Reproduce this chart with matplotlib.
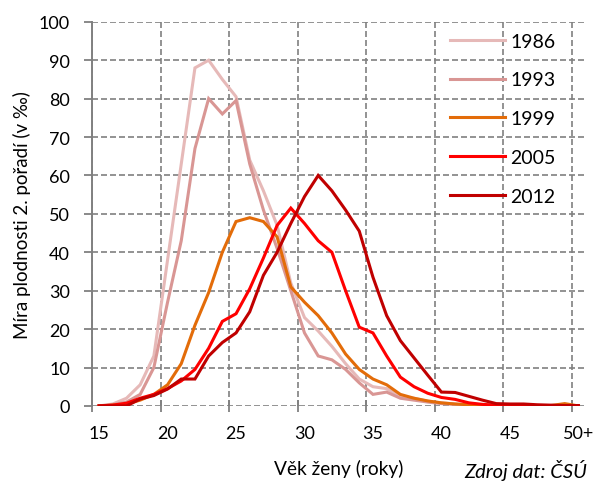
import matplotlib.pyplot as plt
from matplotlib.ticker import FixedLocator

plt.rcParams['font.family'] = ['Lato', 'DejaVu Sans']

# age categories 15 .. 50+
ages = list(range(15, 51))
age_labels = ["15", "20", "25", "30", "35", "40", "45", "50+"]

rate_1986 = [0, 0.5, 2, 5.5, 13, 38, 63, 88, 90, 85, 80.5, 64, 56, 47, 32, 23,
             19.5, 15.5, 11, 7, 5, 4.5, 2.5, 2, 1.2, 0.8, 0.5, 0.3, 0.2, 0.1,
             0, 0, 0, 0, 0, 0]
rate_1993 = [0, 0.3, 1, 3, 10, 27, 43, 67, 80, 76, 79.5, 63, 51, 41, 30, 19,
             13, 12, 9.5, 6, 3, 3.6, 2, 1.5, 1, 0.6, 0.4, 0.2, 0.1, 0,
             0, 0, 0, 0, 0, 0]
rate_1999 = [0, 0.2, 0.5, 1.5, 3, 5.5, 11, 21, 29.5, 40, 48, 49, 48, 44, 31, 27,
             23.5, 19, 13.5, 9.5, 7, 5.5, 3, 2, 1.3, 0.8, 0.5, 0.3, 0.2, 0.1,
             0.1, 0.1, 0.1, 0.1, 0.6, 0]
rate_2005 = [0, 0.2, 0.7, 2, 3, 4.5, 6.5, 9.5, 15, 22, 24, 30.5, 38.5, 47, 51.5, 47.5,
             43, 40, 30, 20.5, 19, 13, 7.5, 5, 3.3, 2.2, 1.7, 0.8, 0.4, 0.2,
             0.1, 0, 0, 0, 0, 0]
rate_2012 = [0, 0, 0, 1.8, 2.7, 4.4, 7, 7, 13, 16.5, 19, 24.5, 34, 40, 47.5, 54.5,
             60, 56, 51, 45.5, 33.5, 23.5, 17, 12.5, 8, 3.6, 3.5, 2.5, 1.5, 0.6,
             0.5, 0.5, 0.3, 0.2, 0.1, 0.1]

series = [
    ("1986", rate_1986, "#E6B9B8"),
    ("1993", rate_1993, "#D99694"),
    ("1999", rate_1999, "#E36C09"),
    ("2005", rate_2005, "#FF0000"),
    ("2012", rate_2012, "#C00000"),
]

fig, ax = plt.subplots(figsize=(5.99, 4.85), dpi=100)
fig.subplots_adjust(left=0.154, right=0.977, top=0.953, bottom=0.161)

for name, vals, col in series:
    ax.plot(ages, vals, color=col, lw=2.2, label=name, solid_joinstyle="miter")

ax.set_xlim(14.5, 50.5)
ax.set_ylim(0, 100)
ax.set_yticks(range(0, 101, 10))

ax.set_xticks([15, 20, 25, 30, 35, 40, 45, 50])
ax.set_xticklabels(age_labels)
ax.xaxis.set_minor_locator(FixedLocator([14.5, 19.5, 24.5, 29.5, 34.5, 39.5, 44.5, 49.5]))
ax.tick_params(axis="x", which="major", length=0, pad=14, labelsize=13)
ax.tick_params(axis="x", which="minor", direction="inout", length=9, width=1.3, color="#808080")
ax.tick_params(axis="y", which="major", length=6, width=1.3, color="#808080", pad=10, labelsize=13)

grid_kw = dict(color="#808080", lw=1.2, linestyle=(0, (3.6, 1.8)))
ax.yaxis.grid(True, which="major", **grid_kw)
ax.xaxis.grid(True, which="minor", **grid_kw)
ax.set_axisbelow(True)

for s in ["top", "right", "bottom"]:
    ax.spines[s].set_visible(False)
ax.spines["left"].set_color("#808080")
ax.spines["left"].set_linewidth(1.4)

ax.set_xlabel("Věk ženy (roky)", fontsize=13.8, labelpad=13)
ax.set_ylabel("Míra plodnosti 2. pořadí (v ‰)", fontsize=13.5, labelpad=6)

fig.text(0.98, 0.008, "Zdroj dat: ČSÚ", fontsize=14.5, style="italic", ha="right", va="bottom")

ax.legend(loc="upper left", bbox_to_anchor=(0.726, 0.972), frameon=False,
          borderpad=0, borderaxespad=0,
          fontsize=14, handlelength=2.8, handletextpad=0.3, labelspacing=1.12)

fig.savefig("out.png", dpi=100)
